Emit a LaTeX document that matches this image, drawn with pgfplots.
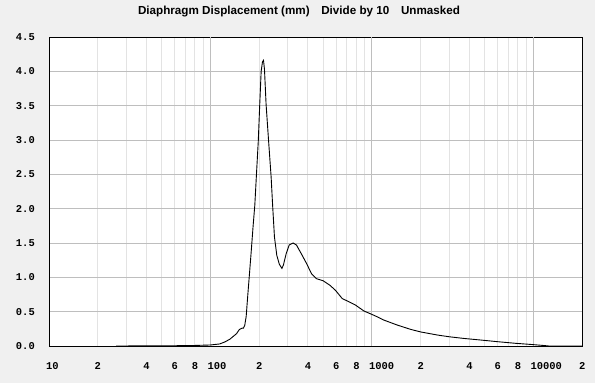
\documentclass[border=0pt]{standalone}
\usepackage{fontspec}
\setmainfont{Liberation Sans}
\newfontfamily\monofont{Liberation Mono}
\usepackage{pgfplots}
\pgfplotsset{compat=1.18}
\definecolor{bg}{HTML}{F0F0F0}
\definecolor{gmaj}{HTML}{BEBEBE}
\definecolor{gmin}{HTML}{E3E3E3}
\pgfplotstableread{
f v
26 0.0
40 0.002
60 0.004
80 0.008
100 0.015
114 0.03
123 0.06
132 0.10
145 0.18
151 0.24
157 0.26
160 0.26
163 0.30
166.4 0.43
170.5 0.76
174.8 1.08
179.1 1.40
183.6 1.74
188.2 2.05
192.9 2.52
197.7 2.98
201.5 3.47
206 4.0
210 4.14
213 4.16
216 4.03
221 3.52
229 2.99
237.5 2.46
243 2.02
249 1.59
257.5 1.32
267 1.19
277 1.13
283 1.18
294 1.34
307 1.47
325 1.50
341 1.47
366 1.34
394 1.20
423 1.05
454 0.98
499 0.95
549 0.885
595 0.81
655 0.69
720 0.645
792 0.595
892 0.51
1000 0.46
1079 0.425
1187 0.377
1435 0.305
1737 0.242
2023 0.203
2541 0.16
3000 0.135
3717 0.11
4718 0.087
5988 0.063
7780 0.039
10000 0.02
11500 0.008
12500 0.0
20000 0.0
}\disp
\begin{document}
\begin{tikzpicture}[x=1bp,y=1bp]
\fill[bg] (0,0) rectangle (595,383);
\useasboundingbox (0,0) rectangle (595,383);
\node[font=\bfseries\fontsize{11.7}{13}\selectfont] at (299,371) {Diaphragm Displacement (mm)\quad Divide by 10\quad Unmasked};
\begin{axis}[
  at={(49bp,37bp)}, anchor=south west,
  scale only axis, width=533bp, height=309bp,
  xmode=log, log basis x=10,
  xmin=10, xmax=20000, ymin=0, ymax=4.5,
  axis background/.style={fill=white},
  axis line style={black, line width=0.9bp},
  xtick={10,20,40,60,80,100,200,400,600,800,1000,2000,4000,6000,8000,10000,20000},
  xticklabels={10,2,4,6,8,100,2,4,6,8,1000,2,4,6,8,10000,2},
  minor xtick={20,30,40,50,60,70,80,90,200,300,400,500,600,700,800,900,2000,3000,4000,5000,6000,7000,8000,9000},
  xminorgrids=true,
  minor grid style={gmin, line width=0.9bp},
  major grid style={gmaj, line width=0.9bp},
  extra x ticks={100,1000,10000},
  extra x tick labels={},
  extra x tick style={grid=major},
  ytick={0,0.5,1,1.5,2,2.5,3,3.5,4,4.5},
  yticklabels={0.0,0.5,1.0,1.5,2.0,2.5,3.0,3.5,4.0,4.5},
  ymajorgrids=true,
  major tick length=0pt, minor tick length=0pt,
  tick style={draw=none},
  xticklabel style={font=\monofont\bfseries\fontsize{10.5}{12}\selectfont, anchor=north west, inner sep=0pt, xshift=-3.1bp, yshift=-16.5bp},
  yticklabel style={font=\monofont\bfseries\fontsize{10.5}{12}\selectfont, anchor=east, inner sep=0pt, xshift=-14bp},
]
\addplot[black, line width=0.9bp] table[x=f, y=v] {\disp};
\end{axis}
\end{tikzpicture}
\end{document}
